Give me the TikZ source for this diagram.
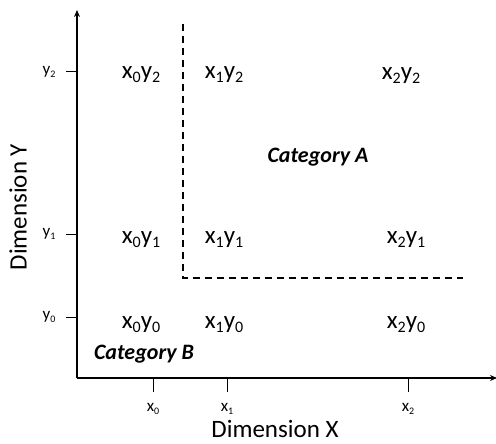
\documentclass[tikz,border=0pt]{standalone}
\usepackage{fontspec}
\setmainfont{Carlito}
\usetikzlibrary{arrows.meta}
\newcommand\cellsub[1]{\raisebox{-4pt}{\fontsize{16}{16}\selectfont #1}}
\newcommand\ticksub[1]{\raisebox{-2.5pt}{\fontsize{10}{10}\selectfont #1}}
\begin{document}
\begin{tikzpicture}[x=1pt,y=-1pt,
  axis/.style={line width=2pt,-{Stealth[length=7pt,width=6pt]}},
  tick/.style={line width=1pt},
  ticklab/.style={font=\fontsize{17}{20}\selectfont},
  cell/.style={font=\fontsize{25}{28}\selectfont},
  cat/.style={font=\fontsize{22}{25}\selectfont\bfseries\itshape},
  dimlab/.style={font=\fontsize{25}{28}\selectfont},
  bound/.style={line width=1.8pt,dash pattern=on 7pt off 5pt}]
\useasboundingbox (0,0) rectangle (496,444);
\coordinate (O) at (77,378);
\coordinate (Ytop) at (77,10);
\coordinate (Xend) at (497,378);
\draw[axis] (O) -- (Ytop);
\draw[axis] (O) -- (Xend);
% y ticks
\foreach \n/\y in {0/317,1/234,2/72}{
  \coordinate (ty\n) at (77,\y);
  \coordinate (tyl\n) at (66,\y);
  \draw[tick] (ty\n) -- (tyl\n);
  \node[ticklab] (ly\n) at (49,\y) {y\ticksub{\n}};
}
% x ticks
\foreach \n/\x in {0/153,1/227,2/408}{
  \coordinate (tx\n) at (\x,378);
  \coordinate (txl\n) at (\x,392);
  \draw[tick] (tx\n) -- (txl\n);
  \node[ticklab] (lx\n) at (\x,409) {x\ticksub{\n}};
}
\node[dimlab] (dx) at (275,429) {Dimension X};
\node[dimlab,rotate=90] (dy) at (18,207) {Dimension Y};
% cells
\node[cell] (c02) at (141,75) {x\cellsub{0}y\cellsub{2}};
\node[cell] (c12) at (224,75) {x\cellsub{1}y\cellsub{2}};
\node[cell] (c22) at (401,76) {x\cellsub{2}y\cellsub{2}};
\node[cell] (c01) at (141,240) {x\cellsub{0}y\cellsub{1}};
\node[cell] (c11) at (224,240) {x\cellsub{1}y\cellsub{1}};
\node[cell] (c21) at (406,240) {x\cellsub{2}y\cellsub{1}};
\node[cell] (c00) at (141,325) {x\cellsub{0}y\cellsub{0}};
\node[cell] (c10) at (224,325) {x\cellsub{1}y\cellsub{0}};
\node[cell] (c20) at (406,325) {x\cellsub{2}y\cellsub{0}};
\node[cat] (ca) at (318,157) {Category A};
\node[cat] (cb) at (144,354) {Category B};
% boundary
\coordinate (b1) at (183,24);
\coordinate (b2) at (183,278);
\coordinate (b3) at (463,278);
\draw[bound] (b1) -- (b2) -- (b3);
\end{tikzpicture}
\end{document}
